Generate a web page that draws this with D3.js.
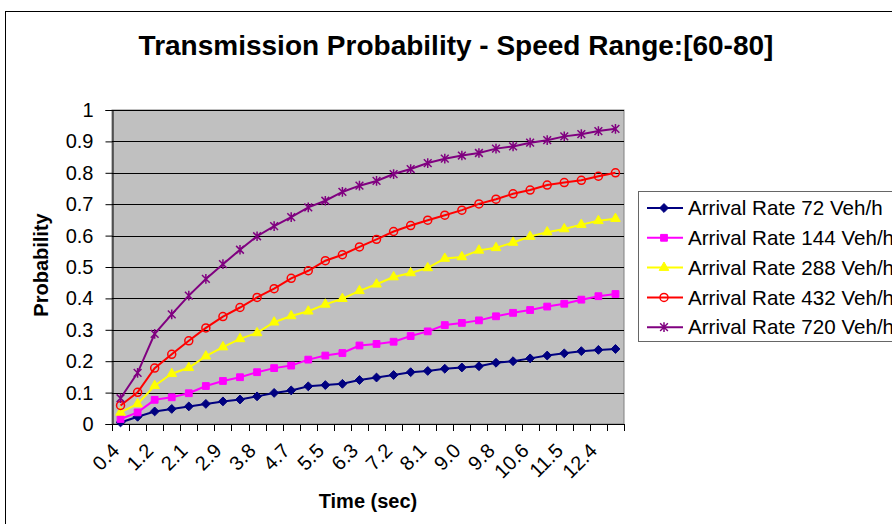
<!DOCTYPE html>
<html>
<head>
<meta charset="utf-8">
<script src="https://cdn.jsdelivr.net/npm/d3@7"></script>
<style>
body {margin: 0; background: #fff;}
svg {display: block; font-family: Arial, "Liberation Sans", sans-serif;}
</style>
</head>
<body>
<div id="chart"></div>
<script>
// categories (time, sec) - every other one is labelled on the axis
const times = ["0.4", "0.8", "1.2", "1.7", "2.1", "2.5", "2.9", "3.4", "3.8", "4.2",
    "4.7", "5.1", "5.5", "5.9", "6.3", "6.8", "7.2", "7.6", "8.1", "8.5",
    "9.0", "9.4", "9.8", "10.2", "10.6", "11.1", "11.5", "11.9", "12.4", "12.8"];

const rate72 = [0.005, 0.023, 0.040, 0.048, 0.056, 0.064, 0.072, 0.078, 0.088, 0.099,
    0.107, 0.120, 0.124, 0.128, 0.140, 0.148, 0.156, 0.165, 0.169, 0.176,
    0.180, 0.184, 0.195, 0.200, 0.209, 0.218, 0.225, 0.232, 0.236, 0.239];
const rate144 = [0.016, 0.037, 0.077, 0.085, 0.098, 0.121, 0.137, 0.149, 0.165, 0.178,
    0.186, 0.205, 0.218, 0.226, 0.250, 0.255, 0.262, 0.280, 0.295, 0.315,
    0.322, 0.330, 0.343, 0.354, 0.363, 0.374, 0.383, 0.396, 0.407, 0.414];
const rate288 = [0.037, 0.064, 0.122, 0.160, 0.179, 0.216, 0.245, 0.271, 0.290, 0.324,
    0.344, 0.359, 0.381, 0.399, 0.424, 0.445, 0.468, 0.481, 0.497, 0.527,
    0.532, 0.553, 0.561, 0.578, 0.597, 0.611, 0.621, 0.635, 0.647, 0.654];
const rate432 = [0.059, 0.101, 0.178, 0.222, 0.265, 0.306, 0.342, 0.371, 0.403, 0.431,
    0.464, 0.488, 0.520, 0.539, 0.564, 0.588, 0.613, 0.632, 0.649, 0.665,
    0.681, 0.701, 0.716, 0.733, 0.745, 0.761, 0.769, 0.776, 0.789, 0.800];
const rate720 = [0.082, 0.163, 0.287, 0.349, 0.409, 0.462, 0.509, 0.555, 0.598, 0.630,
    0.659, 0.690, 0.711, 0.739, 0.759, 0.774, 0.796, 0.812, 0.831, 0.845,
    0.855, 0.863, 0.877, 0.884, 0.896, 0.904, 0.916, 0.923, 0.933, 0.940];

const seriesNames = ["Arrival Rate 72 Veh/h", "Arrival Rate 144 Veh/h", "Arrival Rate 288 Veh/h",
    "Arrival Rate 432 Veh/h", "Arrival Rate 720 Veh/h"];
const yTicks = [0, 0.1, 0.2, 0.3, 0.4, 0.5, 0.6, 0.7, 0.8, 0.9, 1];

const W = 892, H = 524;
const plot = {left: 112, top: 110, right: 624, bottom: 424};

// excel style "star" marker: an x with a vertical bar through it
const symbolStar = {
    draw(ctx, size) {
        const r = Math.sqrt(size) / 2;
        ctx.moveTo(-r, -r); ctx.lineTo(r, r);
        ctx.moveTo(r, -r); ctx.lineTo(-r, r);
        ctx.moveTo(0, -r * 1.25); ctx.lineTo(0, r * 1.25);
    }
};

const series = [
    {name: seriesNames[0], values: rate72, color: "#000080", symbol: d3.symbolDiamond2, size: 50, fill: true},
    {name: seriesNames[1], values: rate144, color: "#FF00FF", symbol: d3.symbolSquare, size: 46, fill: true},
    {name: seriesNames[2], values: rate288, color: "#FFFF00", symbol: d3.symbolTriangle, size: 40, fill: true},
    {name: seriesNames[3], values: rate432, color: "#FF0000", symbol: d3.symbolCircle, size: 50, fill: false},
    {name: seriesNames[4], values: rate720, color: "#800080", symbol: symbolStar, size: 60, fill: false}
];

const svg = d3.select("#chart").append("svg")
    .attr("width", W)
    .attr("height", H);

// chart frame (runs off the right and bottom edges)
svg.append("rect")
    .attr("x", 5.5).attr("y", 11.5)
    .attr("width", W + 20).attr("height", H + 20)
    .attr("fill", "#fff")
    .attr("stroke", "#000");

svg.append("text")
    .attr("x", 456).attr("y", 55)
    .attr("text-anchor", "middle")
    .attr("font-size", 28).attr("font-weight", "bold")
    .text("Transmission Probability - Speed Range:[60-80]");

const x = d3.scaleBand()
    .domain(times)
    .range([plot.left, plot.right]);

const y = d3.scaleLinear()
    .domain([0, 1])
    .range([plot.bottom, plot.top]);

// plot area
svg.append("rect")
    .attr("x", plot.left).attr("y", plot.top)
    .attr("width", plot.right - plot.left).attr("height", plot.bottom - plot.top)
    .attr("fill", "#C0C0C0")
    .attr("stroke", "#808080");

svg.append("g")
    .selectAll("line")
    .data(yTicks.slice(1))
    .enter().append("line")
    .attr("x1", plot.left).attr("x2", plot.right)
    .attr("y1", d => Math.round(y(d)) + 0.5).attr("y2", d => Math.round(y(d)) + 0.5)
    .attr("stroke", "#000");

// y axis
const yAxis = svg.append("g")
    .attr("transform", "translate(" + (plot.left + 0.5) + ",0)")
    .call(d3.axisLeft(y).tickValues(yTicks).tickFormat(d3.format("")).tickSize(7).tickPadding(12));
yAxis.select(".domain").attr("stroke", "#000");
yAxis.selectAll("text").attr("font-size", 20).attr("font-family", null).attr("fill", "#000");

// x axis: tick marks between categories
const xEdges = times.map(t => x(t)).concat([plot.right]);
const xAxis = svg.append("g");
xAxis.append("line")
    .attr("x1", plot.left).attr("x2", plot.right)
    .attr("y1", plot.bottom + 0.5).attr("y2", plot.bottom + 0.5)
    .attr("stroke", "#000");
xAxis.selectAll(".tick")
    .data(xEdges)
    .enter().append("line")
    .attr("class", "tick")
    .attr("x1", d => Math.round(d) + 0.5).attr("x2", d => Math.round(d) + 0.5)
    .attr("y1", plot.bottom).attr("y2", plot.bottom + 7)
    .attr("stroke", "#000");
xAxis.selectAll(".lbl")
    .data(times.filter((t, i) => i % 2 === 0))
    .enter().append("text")
    .attr("class", "lbl")
    .attr("transform", d => "translate(" + (x(d) + x.bandwidth() / 2) + "," + 452 + ") rotate(-45)")
    .attr("text-anchor", "end")
    .attr("font-size", 20)
    .text(d => d);

svg.append("text")
    .attr("transform", "translate(48," + 265 + ") rotate(-90)")
    .attr("text-anchor", "middle")
    .attr("font-size", 20).attr("font-weight", "bold")
    .text("Probability");

svg.append("text")
    .attr("x", (plot.left + plot.right) / 2).attr("y", 508)
    .attr("text-anchor", "middle")
    .attr("font-size", 20).attr("font-weight", "bold")
    .text("Time (sec)");

// series
const line = d3.line()
    .x((d, i) => x(times[i]) + x.bandwidth() / 2)
    .y(d => y(d));

const sg = svg.append("g").selectAll("g")
    .data(series)
    .enter().append("g");

sg.append("path")
    .attr("d", d => line(d.values))
    .attr("fill", "none")
    .attr("stroke", d => d.color)
    .attr("stroke-width", 2);

sg.each(function (s) {
    d3.select(this).selectAll(".pt")
        .data(s.values)
        .enter().append("path")
        .attr("class", "pt")
        .attr("transform", (d, i) => "translate(" + (x(times[i]) + x.bandwidth() / 2) + "," + y(d) + ")")
        .attr("d", d3.symbol().type(s.symbol).size(s.size))
        .attr("fill", s.fill ? s.color : "none")
        .attr("stroke", s.color)
        .attr("stroke-width", s.fill ? 1 : 1.5);
});

// legend
const legend = svg.append("g");
legend.append("rect")
    .attr("x", 638.5).attr("y", 191.5)
    .attr("width", 300).attr("height", 150)
    .attr("fill", "#fff")
    .attr("stroke", "#666");

const item = legend.selectAll(".item")
    .data(series)
    .enter().append("g")
    .attr("class", "item")
    .attr("transform", (d, i) => "translate(0," + (208 + i * 29.8) + ")");

item.append("line")
    .attr("x1", 647).attr("x2", 683)
    .attr("stroke", d => d.color)
    .attr("stroke-width", 2);

item.append("path")
    .attr("transform", "translate(664,0)")
    .attr("d", d => d3.symbol().type(d.symbol).size(d.size)())
    .attr("fill", d => d.fill ? d.color : "none")
    .attr("stroke", d => d.color)
    .attr("stroke-width", d => d.fill ? 1 : 1.5);

item.append("text")
    .attr("x", 688).attr("dy", "0.35em")
    .attr("font-size", 20.6)
    .text(d => d.name);
</script>
</body>
</html>
